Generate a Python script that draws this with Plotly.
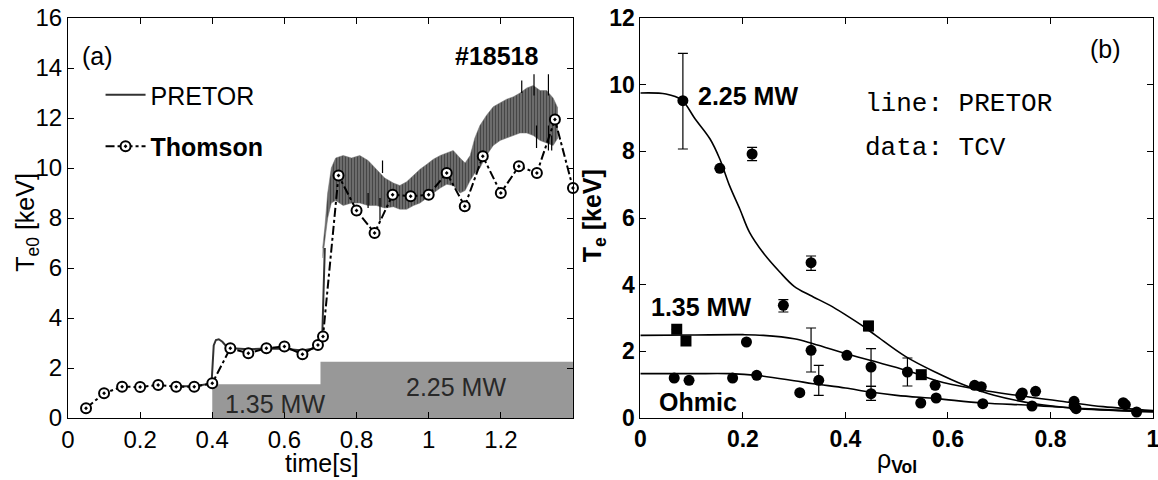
import plotly.graph_objects as go

# ---------------- Panel (a): central Te vs time ----------------
thomson_t = [0.05, 0.10, 0.15, 0.20, 0.25, 0.30, 0.35, 0.40, 0.45, 0.50, 0.55, 0.60, 0.65, 0.693, 0.707,
             0.75, 0.80, 0.85, 0.90, 0.95, 1.00, 1.05, 1.10, 1.15, 1.20, 1.25, 1.30, 1.35, 1.40]
thomson_T = [0.39, 0.99, 1.25, 1.24, 1.32, 1.25, 1.25, 1.39, 2.79, 2.59, 2.79, 2.86, 2.55, 2.92, 3.26,
             9.70, 8.30, 7.40, 8.93, 8.87, 8.93, 9.80, 8.47, 10.47, 9.00, 10.07, 9.80, 11.94, 9.20]

pretor_t = [0.30, 0.35, 0.398, 0.404, 0.41, 0.418, 0.428, 0.443, 0.50, 0.55, 0.60, 0.65, 0.68, 0.697,
            0.705, 0.708, 0.712]
pretor_T = [1.27, 1.27, 1.38, 2.90, 3.12, 3.15, 3.05, 2.80, 2.75, 2.78, 2.77, 2.70, 2.78, 3.00,
            3.30, 5.00, 6.80]

band_t = [0.706, 0.712, 0.72, 0.73, 0.742, 0.763, 0.786, 0.809, 0.832, 0.855, 0.878, 0.902, 0.92,
          0.939, 0.958, 0.976, 0.995, 1.013, 1.032, 1.05, 1.068, 1.087, 1.101, 1.115, 1.128, 1.142,
          1.16, 1.179, 1.198, 1.216, 1.235, 1.253, 1.272, 1.29, 1.309, 1.327, 1.345, 1.358]
band_hi = [6.8, 7.6, 9.0, 10.0, 10.4, 10.5, 10.4, 10.5, 10.3, 9.95, 9.6, 9.4, 9.3, 9.45, 9.7, 9.95,
           10.15, 10.35, 10.5, 10.6, 10.7, 10.4, 10.2, 10.5, 11.2, 11.7, 12.1, 12.45, 12.6, 12.75,
           12.85, 13.0, 13.2, 13.3, 13.1, 13.1, 12.8, 12.4]
band_lo = [6.4, 7.0, 8.0, 8.6, 8.7, 8.5, 8.6, 8.6, 8.5, 8.5, 8.4, 8.45, 8.35, 8.35, 8.5, 8.6, 8.8,
           9.0, 9.2, 9.35, 9.3, 9.0, 9.1, 9.5, 9.8, 10.0, 10.5, 10.9, 11.1, 11.2, 11.3, 11.4, 11.4,
           11.3, 11.1, 11.0, 10.9, 11.2]

spike_t = [0.832, 0.865, 0.872, 1.258, 1.292, 1.299, 1.332, 1.332, 1.341]
spike_hi = [9.0, 8.8, 10.3, 13.5, 13.75, 11.7, 13.75, 11.7, 11.3]
spike_lo = [8.4, 7.9, 9.8, 13.0, 12.9, 10.8, 12.9, 10.7, 10.7]

power_t = [0.40, 0.70, 1.40]
power_MW = [1.35, 2.25, 2.25]

# ---------------- Panel (b): Te profiles ----------------
rho_225 = [0, 0.05, 0.08, 0.107, 0.136, 0.155, 0.174, 0.194, 0.213, 0.24, 0.272, 0.30, 0.331, 0.37,
           0.402, 0.43, 0.459, 0.517, 0.575, 0.633, 0.69, 0.769, 0.856, 0.93, 1.0]
Te_225 = [9.75, 9.72, 9.55, 8.97, 8.37, 7.77, 6.97, 6.27, 5.57, 4.95, 4.38, 3.95, 3.68, 3.38,
          3.08, 2.80, 2.48, 1.85, 1.38, 0.98, 0.68, 0.43, 0.28, 0.22, 0.18]
rho_135 = [0, 0.1, 0.2, 0.24, 0.3, 0.337, 0.402, 0.448, 0.519, 0.578, 0.643, 0.734, 0.831, 0.903, 1.0]
Te_135 = [2.48, 2.49, 2.50, 2.48, 2.38, 2.23, 1.93, 1.73, 1.43, 1.12, 0.90, 0.68, 0.48, 0.34, 0.22]
rho_oh = [0, 0.1, 0.175, 0.227, 0.3, 0.337, 0.4, 0.448, 0.5, 0.578, 0.669, 0.766, 0.864, 0.95, 1.0]
Te_oh = [1.33, 1.33, 1.33, 1.28, 1.12, 1.03, 0.90, 0.78, 0.68, 0.58, 0.45, 0.38, 0.28, 0.22, 0.20]

d225_r = [0.083, 0.155, 0.218, 0.279, 0.333, 0.445]
d225_T = [9.52, 7.49, 7.92, 3.38, 4.66, 2.76]
d225_ep = [1.42, None, 0.20, 0.17, 0.20, 0.14]
d225_em = [1.45, None, 0.20, 0.20, 0.23, 0.14]

d135_r = [0.071, 0.089, 0.207, 0.333, 0.403, 0.450, 0.521, 0.548, 0.575, 0.652, 0.665, 0.745, 0.771, 0.846, 0.942]
d135_T = [2.66, 2.31, 2.28, 2.03, 1.88, 1.53, 1.38, 1.30, 0.98, 0.98, 0.94, 0.75, 0.80, 0.50, 0.46]
d135_ep = [None, None, None, 0.67, None, 0.55, 0.42, None, None, None, None, None, None, None, None]
d135_em = [None, None, None, 0.65, None, 0.58, 0.42, None, None, None, None, None, None, None, None]

doh_r = [0.066, 0.095, 0.180, 0.227, 0.311, 0.348, 0.450, 0.547, 0.577, 0.668, 0.742, 0.764, 0.846, 0.85, 0.946, 0.968]
doh_T = [1.20, 1.13, 1.20, 1.28, 0.76, 1.13, 0.73, 0.45, 0.60, 0.43, 0.68, 0.36, 0.36, 0.28, 0.40, 0.18]
doh_ep = [None, None, None, None, None, 0.45, 0.22, None, None, None, None, None, None, None, None, None]
doh_em = [None, None, None, None, None, 0.45, 0.20, None, None, None, None, None, None, None, None, None]

xt_a = [0, 0.2, 0.4, 0.6, 0.8, 1.0, 1.2]
xt_a_txt = ['0', '0.2', '0.4', '0.6', '0.8', '1', '1.2']
xt_b = [0, 0.2, 0.4, 0.6, 0.8, 1.0]
xt_b_txt = ['0', '0.2', '0.4', '0.6', '0.8', '1']

# ---------------- figure ----------------
FONT = 'Liberation Sans, Arial, sans-serif'
MONO = 'Courier New, Liberation Mono, monospace'
sq = {0.071, 0.089, 0.548, 0.445}

fig = go.Figure()

# heating power boxes
fig.add_trace(go.Scatter(x=power_t, y=power_MW, mode='lines', line=dict(width=0, shape='hv'),
                         fill='tozeroy', fillcolor='rgb(152,152,152)', hoverinfo='skip',
                         showlegend=False, xaxis='x', yaxis='y'))
# PRETOR sawtooth band
fig.add_trace(go.Scatter(x=band_t, y=band_lo, mode='lines', line=dict(width=0.5, color='rgb(110,110,110)'),
                         showlegend=False, xaxis='x', yaxis='y'))
fig.add_trace(go.Scatter(x=band_t, y=band_hi, mode='lines', line=dict(width=0.5, color='rgb(110,110,110)'),
                         fill='tonexty', fillcolor='rgb(90,90,90)',
                         fillpattern=dict(shape='|', fgcolor='rgb(25,25,25)', bgcolor='rgb(115,115,115)',
                                          size=3, solidity=0.45),
                         showlegend=False, xaxis='x', yaxis='y'))
sx, sy = [], []
for t, hi, lo in zip(spike_t, spike_hi, spike_lo):
    sx += [t, t, None]
    sy += [lo, hi, None]
fig.add_trace(go.Scatter(x=sx, y=sy, mode='lines', line=dict(width=1.2, color='black'),
                         showlegend=False, xaxis='x', yaxis='y'))
# PRETOR line
fig.add_trace(go.Scatter(x=pretor_t, y=pretor_T, mode='lines', name='PRETOR',
                         line=dict(width=2, color='rgb(50,50,50)'), legendgroup='a',
                         xaxis='x', yaxis='y'))
# Thomson
fig.add_trace(go.Scatter(x=thomson_t, y=thomson_T, mode='lines+markers', name='<b>Thomson</b>',
                         line=dict(width=2, color='black', dash='dashdot'),
                         marker=dict(symbol='circle-dot', size=10, color='white',
                                     line=dict(width=2, color='black')),
                         legendgroup='b', cliponaxis=False, xaxis='x', yaxis='y'))

# panel (b) profiles
for r, T in [(rho_225, Te_225), (rho_135, Te_135), (rho_oh, Te_oh)]:
    fig.add_trace(go.Scatter(x=r, y=T, mode='lines', line=dict(width=1.6, color='black', shape='spline'),
                             showlegend=False, xaxis='x2', yaxis='y2'))
for r, T, ep, em in [(d225_r, d225_T, d225_ep, d225_em),
                     (d135_r, d135_T, d135_ep, d135_em),
                     (doh_r, doh_T, doh_ep, doh_em)]:
    syms = ['square' if v in sq else 'circle' for v in r]
    fig.add_trace(go.Scatter(x=r, y=T, mode='markers',
                             marker=dict(symbol=syms, size=11, color='black'),
                             error_y=dict(type='data', array=ep, arrayminus=em, symmetric=False,
                                          color='black', thickness=1.2, width=5),
                             showlegend=False, xaxis='x2', yaxis='y2'))

axis_common = dict(showline=True, linecolor='black', linewidth=1, mirror='ticks', ticks='inside',
                   ticklen=6, tickcolor='black', showgrid=False, zeroline=False,
                   ticklabeloverflow='allow', automargin=False)

fig.update_layout(
    width=1158, height=480,
    margin=dict(l=68, r=5, t=18, b=62, autoexpand=False),
    paper_bgcolor='white', plot_bgcolor='white',
    font=dict(family=FONT, size=24, color='black'),
    xaxis=dict(domain=[0, 0.4654], range=[0, 1.4], tickvals=xt_a, ticktext=xt_a_txt,
               tickfont=dict(size=24), anchor='y', **axis_common),
    yaxis=dict(domain=[0, 1], range=[0, 16], dtick=2, tickfont=dict(size=24), anchor='x', **axis_common),
    xaxis2=dict(domain=[0.5275, 1.0], range=[0, 1], tickvals=xt_b, ticktext=xt_b_txt,
                tickfont=dict(size=23, weight='bold'), anchor='y2', **axis_common),
    yaxis2=dict(domain=[0, 1], range=[0, 12], dtick=2, tickfont=dict(size=23, weight='bold'),
                anchor='x2', **axis_common),
    showlegend=True,
    legend=dict(x=0.030, y=0.865, xanchor='left', yanchor='top', bgcolor='rgba(0,0,0,0)',
                font=dict(size=25, family=FONT), tracegroupgap=16, traceorder='grouped',
                itemwidth=40),
)

ann = []
def A(text, x, y, xref='x', yref='y', size=25, bold=False, family=FONT, xanchor='center', angle=0, color='black'):
    ann.append(dict(text=('<b>%s</b>' % text) if bold else text, x=x, y=y, xref=xref, yref=yref,
                    showarrow=False, xanchor=xanchor, yanchor='middle', textangle=angle,
                    font=dict(size=size, family=family, color=color)))

A('(a)', 0.083, 14.5)
A('#18518', 1.19, 14.5, bold=True)
A('1.35 MW', 0.574, 0.56, color='rgb(40,40,40)')
A('2.25 MW', 1.076, 1.24, color='rgb(40,40,40)')
A('time[s]', 0.234, -0.112, xref='paper', yref='paper')
A('T<sub>e0</sub> [keV]', -0.038, 0.49, xref='paper', yref='paper', angle=-90)

A('(b)', 0.908, 11.06, xref='x2', yref='y2')
A('2.25 MW', 0.21, 9.66, xref='x2', yref='y2', bold=True)
A('line: PRETOR', 0.434, 9.42, xref='x2', yref='y2', family=MONO, size=26, xanchor='left')
A('data: TCV', 0.434, 8.10, xref='x2', yref='y2', family=MONO, size=26, xanchor='left')
A('1.35 MW', 0.118, 3.34, xref='x2', yref='y2', bold=True)
A('Ohmic', 0.113, 0.49, xref='x2', yref='y2', bold=True)
A('ρ<sub><b>Vol</b></sub>', 0.764, -0.108, xref='paper', yref='paper')
A('T<sub>e</sub> [keV]', 0.4850, 0.505, xref='paper', yref='paper', angle=-90, bold=True)

fig.update_layout(annotations=ann)
fig.write_html('out.html')
